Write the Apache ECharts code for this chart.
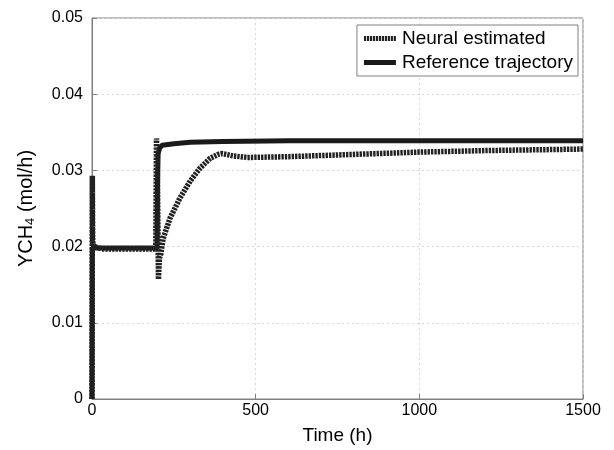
<!DOCTYPE html>
<html>
<head>
<meta charset="utf-8">
<script src="https://cdn.jsdelivr.net/npm/echarts@6/dist/echarts.min.js"></script>
<style>html,body{margin:0;padding:0;background:#fff;}#c{width:614px;height:450px;}</style>
</head>
<body>
<div id="c"></div>
<script>
var seriesNames = ['Neural estimated', 'Reference trajectory'];
var xTicks = [0, 500, 1000, 1500];
var yTicks = [0, 0.01, 0.02, 0.03, 0.04, 0.05];

var neuralTime   = [0, 1, 2, 3, 6, 12, 30, 100, 195, 197, 200, 203, 206, 210, 217, 238, 269, 300, 330, 361, 385, 397, 410, 431, 474, 600, 800, 1000, 1200, 1500];
var neuralValues = [0, 0.0293, 0.0210, 0.0203, 0.0200, 0.0198, 0.0197, 0.0197, 0.0197, 0.0342, 0.0290, 0.0157, 0.0185, 0.0190, 0.0210, 0.0237, 0.0264, 0.0286, 0.0303, 0.0316, 0.0321, 0.0322, 0.0321, 0.0319, 0.0317, 0.0318, 0.0321, 0.0324, 0.0326, 0.0328];

var refTime   = [0, 1, 3, 199, 200, 202, 207, 215, 250, 300, 400, 600, 1000, 1500];
var refValues = [0, 0.0198, 0.0198, 0.0198, 0.0280, 0.0322, 0.0330, 0.0333, 0.0335, 0.0337, 0.0338, 0.0339, 0.0339, 0.0339];

function pairs(t, v) { return t.map(function (x, i) { return [x, v[i]]; }); }

// dotted legend icon built from small bars
var dotIcon = 'path://';
for (var k = 0; k < 11; k++) { dotIcon += 'M' + (k * 3) + ',0h2.2v5h-2.2z'; }

var font = 'Liberation Sans, Arial, Helvetica, sans-serif';
var chart = echarts.init(document.getElementById('c'), null, {renderer: 'canvas'});
chart.setOption({
  backgroundColor: '#fff',
  animation: false,
  grid: {left: 92, right: 31, top: 18, bottom: 46, show: true, borderColor: '#808080', borderWidth: 1, backgroundColor: 'transparent'},
  legend: {
    data: [
      {name: seriesNames[0], icon: dotIcon, itemStyle: {color: '#222', borderWidth: 0}},
      {name: seriesNames[1], icon: 'rect', itemStyle: {color: '#1a1a1a', borderWidth: 0}}
    ],
    orient: 'vertical',
    right: 36, top: 25,
    itemWidth: 32, itemHeight: 5, itemGap: 5,
    padding: [4, 5, 4, 7],
    borderColor: '#808080', borderWidth: 1, borderRadius: 0,
    backgroundColor: '#fff',
    textStyle: {fontFamily: font, fontSize: 19, color: '#000', padding: [0, 0, 0, 1]}
  },
  xAxis: {
    type: 'value', min: xTicks[0], max: xTicks[xTicks.length - 1], interval: 500,
    name: 'Time (h)', nameLocation: 'middle', nameGap: 27,
    nameTextStyle: {fontFamily: font, fontSize: 19, color: '#000'},
    axisLine: {show: true, onZero: false, lineStyle: {color: '#808080', width: 1}},
    axisTick: {show: true, inside: true, length: 5, lineStyle: {color: '#808080'}},
    axisLabel: {fontFamily: font, fontSize: 16, color: '#000', margin: 4,
      formatter: function (v) { return String(v); }},
    splitLine: {show: true, lineStyle: {color: '#d8d8d8', type: [2, 3], width: 1}}
  },
  yAxis: {
    type: 'value', min: yTicks[0], max: yTicks[yTicks.length - 1], interval: 0.01,
    name: '{a|YCH}{s|4}{a| (mol/h)}', nameLocation: 'middle', nameGap: 55, nameRotate: 90,
    nameTextStyle: {rich: {
      a: {fontFamily: font, fontSize: 20, color: '#000'},
      s: {fontFamily: font, fontSize: 13, color: '#000', verticalAlign: 'bottom', padding: [9, 0, 0, 0]}
    }},
    axisLine: {show: true, onZero: false, lineStyle: {color: '#808080', width: 1}},
    axisTick: {show: true, inside: true, length: 5, lineStyle: {color: '#808080'}},
    axisLabel: {fontFamily: font, fontSize: 16, color: '#000', margin: 9,
      formatter: function (v) { return v === 0 ? '0' : v.toFixed(2); }},
    splitLine: {show: true, lineStyle: {color: '#d8d8d8', type: [2, 3], width: 1}}
  },
  series: [
    {
      name: seriesNames[0], type: 'line', data: pairs(neuralTime, neuralValues),
      showSymbol: false, symbol: 'none', smooth: false, z: 3, color: '#222',
      lineStyle: {color: '#222', width: 5.5, type: [2.4, 1], cap: 'butt', join: 'miter'}
    },
    {
      name: seriesNames[1], type: 'line', data: pairs(refTime, refValues),
      showSymbol: false, symbol: 'none', smooth: false, z: 2, color: '#1a1a1a',
      lineStyle: {color: '#1a1a1a', width: 5, type: 'solid'}
    }
  ]
});
</script>
</body>
</html>
